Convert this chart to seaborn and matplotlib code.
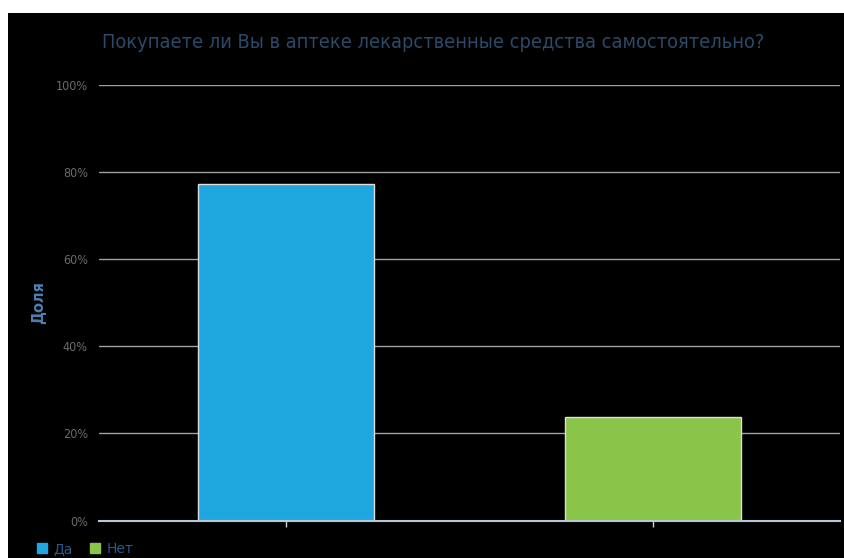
import matplotlib
matplotlib.use("Agg")
import matplotlib.pyplot as plt
import seaborn as sns
import pandas as pd
from matplotlib.patches import Rectangle
from matplotlib.lines import Line2D
from matplotlib.ticker import FuncFormatter

# data
categories = ["Да", "Нет"]
shares = [77.2, 23.7]
colors = ["#1EA7DF", "#8AC449"]
title = "Покупаете ли Вы в аптеке лекарственные средства самостоятельно?"
ylabel = "Доля"
yticks = [0, 20, 40, 60, 80, 100]

df = pd.DataFrame({"answer": categories, "share": shares})

sns.set_theme(style="white")
plt.rcParams["font.family"] = ["DejaVu Sans"]

W, H = 845, 558
fig = plt.figure(figsize=(W / 100, H / 100), dpi=100, facecolor="white")
fig.patches.append(Rectangle((8 / W, 0), 1 - 8 / W, 1 - 13 / H, transform=fig.transFigure,
                             facecolor="black", edgecolor="none", zorder=-10))

ax = fig.add_axes([99 / W, 1 - 520.5 / H, (840 - 99) / W, (520.5 - 85) / H])
ax.set_facecolor("black")
ax.set_zorder(1)

sns.barplot(data=df, x="answer", y="share", hue="answer", palette=colors, saturation=1,
            width=0.48, edgecolor="#dddddd", linewidth=1, legend=False, ax=ax, zorder=3)

ax.set_ylim(0, 100)
ax.set_xlim(-0.51, 1.51)
ax.set_yticks(yticks)
ax.yaxis.set_major_formatter(FuncFormatter(lambda v, p: f"{int(v)}%"))
ax.grid(axis="y", color="#a0a0a0", linewidth=1, zorder=1)
ax.grid(axis="x", visible=False)
ax.set_axisbelow(True)
for s in ["top", "right", "left"]:
    ax.spines[s].set_visible(False)
ax.spines["bottom"].set_color("#b8c8d8")
ax.spines["bottom"].set_linewidth(1.5)
ax.spines["bottom"].set_zorder(4)
ax.tick_params(axis="y", length=0, labelsize=9, labelcolor="#6a6a6a", pad=8)
ax.tick_params(axis="x", length=4, width=1, color="#c8d4e0", bottom=True,
               labelbottom=False, direction="out")
for t in ax.get_yticklabels():
    t.set_fontstretch("condensed")
ax.set_xlabel("")
ax.set_ylabel(ylabel, color="#4f7fb0", fontsize=10.5, fontweight="heavy", labelpad=7)

fig.text(433 / W, 1 - 43 / H, title, ha="center", va="center", fontsize=14.3,
         color="#2c4a68", fontstretch="condensed")

handles = [Line2D([], [], linestyle="none", marker="s", markersize=7,
                  markerfacecolor=c, markeredgecolor=c) for c in colors]
fig.legend(handles, categories, loc="center left", bbox_to_anchor=(30 / W, 1 - 549 / H),
           ncol=2, frameon=False, fontsize=10, labelcolor="#2a5888", handletextpad=0.3,
           columnspacing=1.1, handlelength=1.0, borderaxespad=0)

fig.savefig("out.png", dpi=100, facecolor="white")
